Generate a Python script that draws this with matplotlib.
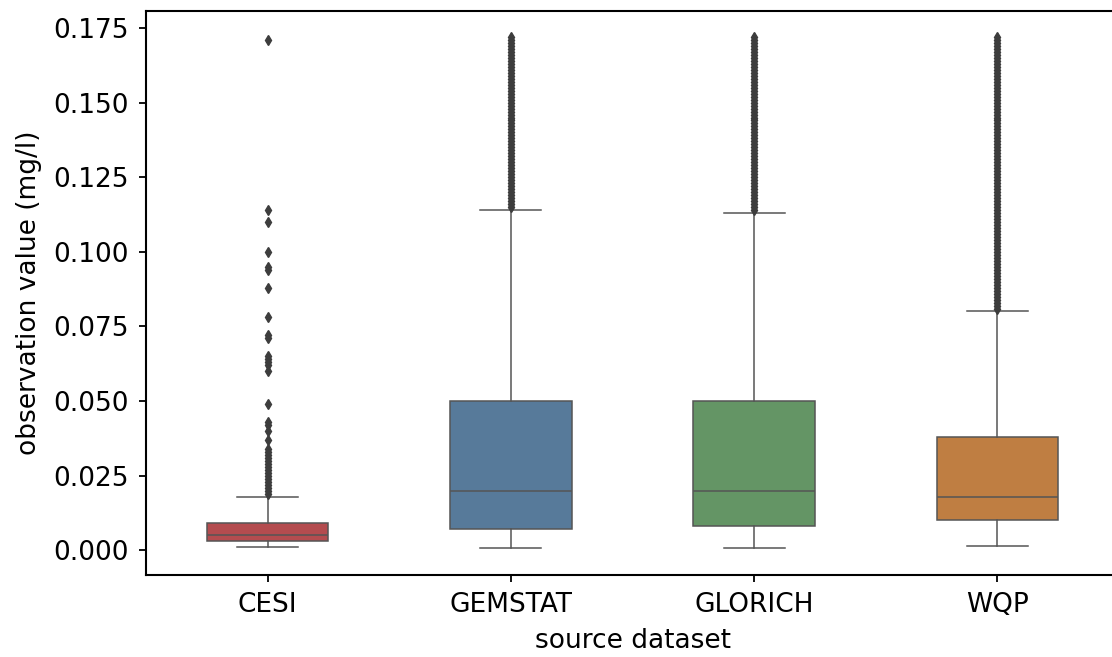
import matplotlib
matplotlib.use('Agg')
import matplotlib.pyplot as plt

# ── data (mg/l) ──────────────────────────────────────────────
sources  = ['CESI', 'GEMSTAT', 'GLORICH', 'WQP']
q1       = [0.003, 0.007, 0.008, 0.010]
median   = [0.005, 0.020, 0.020, 0.018]
q3       = [0.009, 0.050, 0.050, 0.038]
whis_lo  = [0.0012, 0.0006, 0.0006, 0.0013]
whis_hi  = [0.018, 0.114, 0.113, 0.080]
colors   = ['#b44c4f', '#577a9a', '#649565', '#bf7e42']

# outliers (CESI in mg/l, the dense columns in ug/l)
cesi_out = [0.171, 0.114, 0.110, 0.100, 0.095, 0.094, 0.088, 0.078, 0.072,
            0.071, 0.065, 0.064, 0.063, 0.062, 0.060, 0.049, 0.043, 0.042,
            0.040, 0.037, 0.034, 0.033, 0.032, 0.031, 0.030, 0.029, 0.028,
            0.027, 0.026, 0.025, 0.024, 0.023, 0.022, 0.021, 0.020, 0.019]
gemstat_out_ug = [115, 116, 117, 118, 119, 120, 121, 122, 123, 124, 125, 126,
                  127, 128, 129, 130, 131, 132, 133, 134, 135, 136, 137, 138,
                  139, 140, 141, 142, 143, 144, 145, 146, 147, 148, 149, 150,
                  151, 152, 153, 154, 155, 156, 157, 158, 159, 160, 161, 162,
                  163, 164, 165, 166, 167, 168, 169, 170, 171, 172]
glorich_out_ug = [114, 115, 116, 117, 118, 119, 120, 121, 122, 123, 124, 125,
                  126, 127, 128, 129, 130, 131, 132, 133, 134, 135, 136, 137,
                  138, 139, 140, 141, 142, 143, 144, 145, 146, 147, 148, 149,
                  150, 151, 152, 153, 154, 155, 156, 157, 158, 159, 160, 161,
                  162, 163, 164, 165, 166, 167, 168, 169, 170, 171, 172]
wqp_out_ug = [81, 82, 83, 84, 85, 86, 87, 88, 89, 90, 91, 92, 93, 94, 95, 96,
              97, 98, 99, 100, 101, 102, 103, 104, 105, 106, 107, 108, 109,
              110, 111, 112, 113, 114, 115, 116, 117, 118, 119, 120, 121, 122,
              123, 124, 125, 126, 127, 128, 129, 130, 131, 132, 133, 134, 135,
              136, 137, 138, 139, 140, 141, 142, 143, 144, 145, 146, 147, 148,
              149, 150, 151, 152, 153, 154, 155, 156, 157, 158, 159, 160, 161,
              162, 163, 164, 165, 166, 167, 168, 169, 170, 171, 172]

fliers = [cesi_out,
          [v / 1000 for v in gemstat_out_ug],
          [v / 1000 for v in glorich_out_ug],
          [v / 1000 for v in wqp_out_ug]]

stats = []
for i, name in enumerate(sources):
    stats.append(dict(label=name, q1=q1[i], med=median[i], q3=q3[i],
                      whislo=whis_lo[i], whishi=whis_hi[i], fliers=fliers[i]))

# ── plot ─────────────────────────────────────────────────────
plt.rcParams['font.family'] = 'DejaVu Sans'
fig = plt.figure(figsize=(11.12, 6.57), dpi=100)
ax = fig.add_axes([0.1313, 0.1248, 0.8750, 0.8585])

LINE = '#555555'
bp = ax.bxp(stats, positions=range(len(sources)), widths=0.5,
            patch_artist=True, manage_ticks=False, capwidths=0.25,
            boxprops=dict(edgecolor=LINE, linewidth=1.1),
            whiskerprops=dict(color=LINE, linewidth=1.1),
            capprops=dict(color=LINE, linewidth=1.1),
            medianprops=dict(color=LINE, linewidth=1.1),
            flierprops=dict(marker='d', markersize=5, markerfacecolor='#3d3d3d',
                            markeredgecolor='#3d3d3d', linestyle='none'))
for patch, c in zip(bp['boxes'], colors):
    patch.set_facecolor(c)

ax.set_xlim(-0.5, 3.5)
ax.set_ylim(-0.0083, 0.1807)
ax.set_yticks([0.000, 0.025, 0.050, 0.075, 0.100, 0.125, 0.150, 0.175])
ax.set_yticklabels(['0.000', '0.025', '0.050', '0.075', '0.100', '0.125',
                    '0.150', '0.175'])
ax.set_xticks(range(len(sources)))
ax.set_xticklabels(sources)

ax.tick_params(labelsize=19, length=5, width=1.3, pad=7.5)
for spine in ax.spines.values():
    spine.set_linewidth(1.5)

ax.set_xlabel('source dataset', fontsize=19, labelpad=7)
ax.set_ylabel('observation value (mg/l)', fontsize=19, labelpad=8)

fig.savefig('out.png', dpi=100)
